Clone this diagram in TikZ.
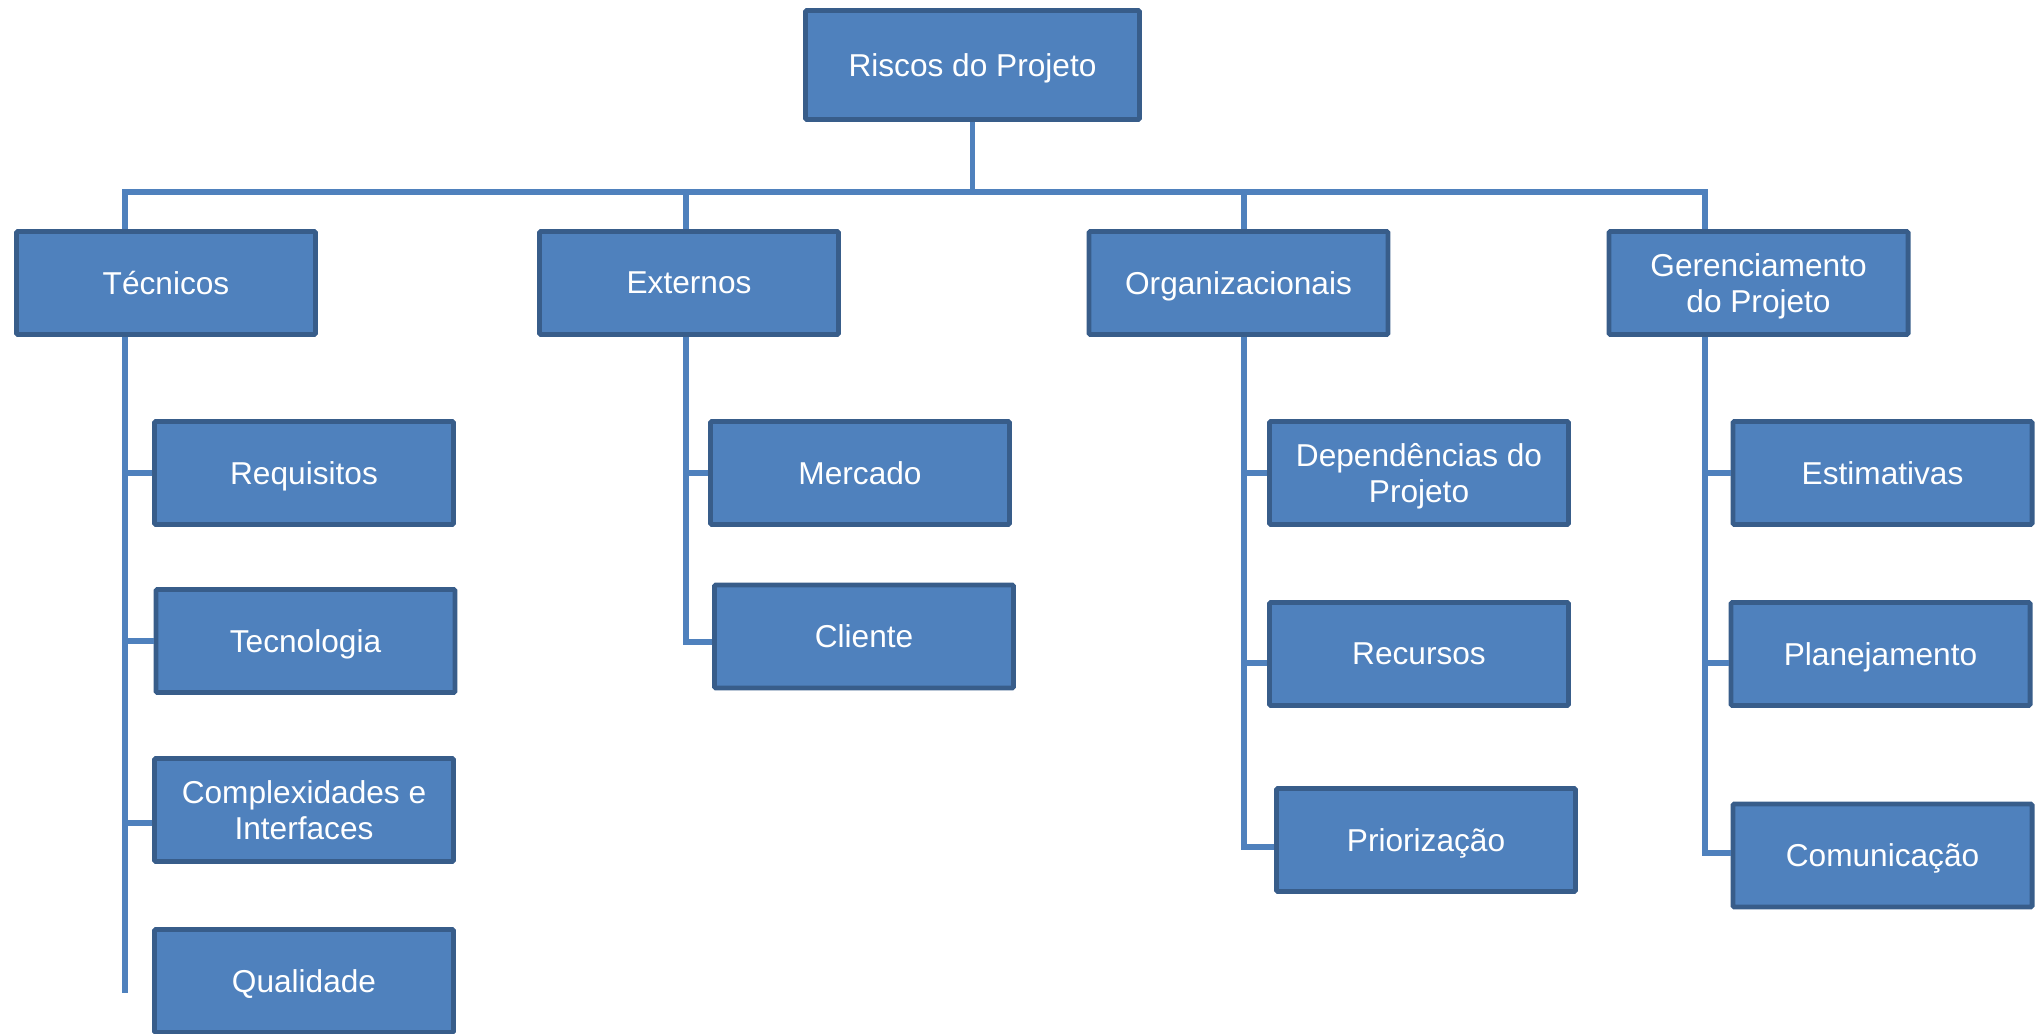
\documentclass[tikz,border=0pt]{standalone}
\usepackage{fontspec}
\setmainfont{Liberation Sans}
\usepackage{tikz}

\definecolor{boxfill}{HTML}{4F81BD}
\definecolor{boxline}{HTML}{385D8A}
\definecolor{linkcol}{HTML}{4F81BD}

\tikzset{
  box/.style={draw=boxline, fill=boxfill, line width=1.4pt, rounded corners=0.4pt,
    minimum width=2.99cm, minimum height=1.03cm, inner sep=0pt, align=center,
    text depth=0pt, text=white, font=\fontsize{9}{10.4}\selectfont},
  link/.style={draw=linkcol, line width=1.5pt}
}

\begin{document}
\begin{tikzpicture}
\useasboundingbox (0,0) rectangle (20.42,-10.34);
			% topo
			\node[box, minimum width=3.34cm, minimum height=1.09cm] (root) at (9.725,-0.65) {Riscos do Projeto};
			\coordinate (bus) at (0,-1.92);
			% categorias
			\node[box] (tec) at (1.66,-2.83) {Técnicos};
			\node[box] (ext) at (6.89,-2.83) {Externos};
			\node[box] (org) at (12.385,-2.83) {Organizacionais};
			\node[box] (ger) at (17.585,-2.83) {Gerenciamento\\do Projeto};
			% fim dos troncos
			\coordinate (tecEnd) at (1.25,-9.93);
			\coordinate (extEnd) at (6.86,-6.42);
			\coordinate (orgEnd) at (12.44,-8.47);
			\coordinate (gerEnd) at (17.05,-8.53);
			% riscos
			\node[box] (req) at (3.04,-4.73) {Requisitos};
			\node[box] (tecn) at (3.055,-6.41) {Tecnologia};
			\node[box] (cpx) at (3.04,-8.10) {Complexidades e\\Interfaces};
			\node[box] (qua) at (3.04,-9.81) {Qualidade};
			\node[box] (mer) at (8.60,-4.73) {Mercado};
			\node[box] (cli) at (8.64,-6.365) {Cliente};
			\node[box] (dep) at (14.19,-4.73) {Dependências do\\Projeto};
			\node[box] (rec) at (14.19,-6.54) {Recursos};
			\node[box] (pri) at (14.26,-8.40) {Priorização};
			\node[box] (est) at (18.825,-4.73) {Estimativas};
			\node[box] (pla) at (18.805,-6.54) {Planejamento};
			\node[box] (com) at (18.825,-8.555) {Comunicação};
			% ligacoes
			\draw[link] (root.south) -- (root.south |- bus);
			\draw[link] (tec.north -| tecEnd) -- (bus -| tecEnd) -- (bus -| gerEnd) -- (ger.north -| gerEnd);
			\draw[link] (bus -| extEnd) -- (ext.north -| extEnd);
			\draw[link] (bus -| orgEnd) -- (org.north -| orgEnd);
			\draw[link] (tec.south -| tecEnd) -- (tecEnd);
			\draw[link] (ext.south -| extEnd) -- (extEnd) -- (extEnd -| cli.west);
			\draw[link] (org.south -| orgEnd) -- (orgEnd) -- (orgEnd -| pri.west);
			\draw[link] (ger.south -| gerEnd) -- (gerEnd) -- (gerEnd -| com.west);
			\path ([yshift=-0.13cm]cpx.west) coordinate (cpxIn);
			\path ([yshift=-0.09cm]rec.west) coordinate (recIn);
			\path ([yshift=-0.09cm]pla.west) coordinate (plaIn);
			\draw[link] (tecEnd |- req.west) -- (req.west);
			\draw[link] (tecEnd |- tecn.west) -- (tecn.west);
			\draw[link] (tecEnd |- cpxIn) -- (cpxIn);
			\draw[link] (extEnd |- mer.west) -- (mer.west);
			\draw[link] (orgEnd |- dep.west) -- (dep.west);
			\draw[link] (orgEnd |- recIn) -- (recIn);
			\draw[link] (gerEnd |- est.west) -- (est.west);
			\draw[link] (gerEnd |- plaIn) -- (plaIn);
\end{tikzpicture}
\end{document}
